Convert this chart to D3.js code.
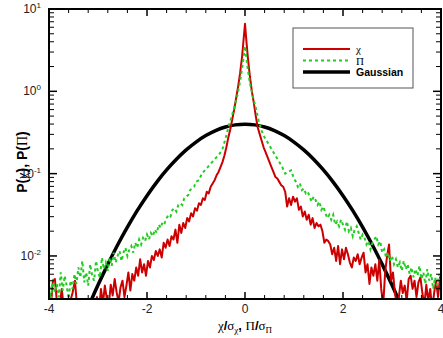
<!DOCTYPE html>
<html>
<head>
<meta charset="utf-8">
<script src="https://cdn.jsdelivr.net/npm/d3@7"></script>
<style>
  body { margin: 0; background: #fff; }
  svg { display: block; font-family: "Liberation Sans", Arial, sans-serif; }
</style>
</head>
<body>
<svg id="chart" width="443" height="338"></svg>
<script>
// chi distribution: [x, log10 P]
const chiData = [
  [-4.00,-2.45],[-3.96,-2.60],[-3.92,-2.30],[-3.88,-2.28],[-3.84,-2.55],[-3.80,-2.70],[-3.74,-2.40],[-3.70,-2.62],
  [-3.64,-2.75],[-3.58,-2.58],[-3.52,-2.45],[-3.47,-2.30],[-3.43,-2.60],[-3.38,-2.80],[-3.30,-2.65],[-3.22,-2.80],
  [-3.18,-2.55],[-3.14,-2.70],[-3.08,-2.62],[-3.02,-2.50],[-2.98,-2.68],[-2.94,-2.40],[-2.90,-2.58],[-2.86,-2.36],
  [-2.82,-2.52],[-2.78,-2.60],[-2.74,-2.35],[-2.70,-2.48],[-2.66,-2.28],[-2.62,-2.44],[-2.58,-2.56],[-2.54,-2.38],
  [-2.50,-2.30],[-2.46,-2.50],[-2.42,-2.36],[-2.38,-2.20],[-2.34,-2.42],[-2.30,-2.22],[-2.26,-2.30],[-2.22,-2.14],
  [-2.18,-2.24],[-2.14,-2.04],[-2.10,-2.20],[-2.06,-2.10],[-2.02,-2.24],[-1.98,-2.06],[-1.94,-2.14],[-1.90,-2.00],
  [-1.86,-2.05],[-1.82,-1.94],[-1.78,-2.00],[-1.74,-1.92],[-1.70,-2.02],[-1.66,-1.84],[-1.62,-1.90],[-1.58,-1.80],
  [-1.54,-1.88],[-1.50,-1.76],[-1.46,-1.80],[-1.42,-1.68],[-1.38,-1.84],[-1.34,-1.62],[-1.30,-1.72],[-1.26,-1.60],
  [-1.22,-1.66],[-1.18,-1.54],[-1.14,-1.58],[-1.10,-1.48],[-1.06,-1.52],[-1.02,-1.42],[-0.98,-1.45],[-0.94,-1.36],
  [-0.90,-1.38],[-0.86,-1.30],[-0.82,-1.32],[-0.78,-1.22],[-0.74,-1.24],[-0.70,-1.16],[-0.66,-1.12],[-0.62,-1.08],
  [-0.58,-1.02],[-0.54,-0.98],[-0.50,-0.92],[-0.46,-0.86],[-0.42,-0.78],[-0.38,-0.68],[-0.34,-0.56],[-0.30,-0.46],
  [-0.26,-0.34],[-0.22,-0.22],[-0.18,-0.08],[-0.14,0.06],[-0.10,0.22],[-0.06,0.42],[-0.03,0.62],[0.00,0.82],
  [0.03,0.60],[0.06,0.40],[0.10,0.18],[0.14,0.00],[0.18,-0.14],[0.22,-0.30],[0.26,-0.44],[0.30,-0.52],
  [0.34,-0.60],[0.38,-0.68],[0.42,-0.74],[0.46,-0.80],[0.50,-0.86],[0.54,-0.92],[0.58,-0.98],[0.62,-1.04],
  [0.66,-1.06],[0.70,-1.10],[0.74,-1.14],[0.78,-1.16],[0.82,-1.22],[0.86,-1.40],[0.90,-1.30],[0.94,-1.38],
  [0.98,-1.28],[1.02,-1.34],[1.06,-1.30],[1.10,-1.44],[1.14,-1.40],[1.18,-1.52],[1.22,-1.46],[1.26,-1.56],
  [1.30,-1.50],[1.34,-1.62],[1.38,-1.54],[1.42,-1.66],[1.46,-1.60],[1.50,-1.64],[1.54,-1.62],[1.58,-1.70],
  [1.62,-1.84],[1.66,-1.80],[1.70,-1.82],[1.74,-1.86],[1.78,-1.98],[1.82,-1.90],[1.86,-2.06],[1.90,-1.88],
  [1.94,-2.10],[1.98,-1.92],[2.02,-2.04],[2.06,-1.90],[2.10,-1.98],[2.14,-2.08],[2.18,-2.14],[2.22,-2.02],
  [2.26,-2.06],[2.30,-1.98],[2.34,-2.10],[2.38,-2.02],[2.42,-1.96],[2.46,-2.20],[2.50,-2.10],[2.54,-2.34],
  [2.58,-2.14],[2.62,-2.24],[2.66,-2.10],[2.70,-2.30],[2.74,-2.05],[2.78,-2.40],[2.82,-2.60],[2.86,-2.20],
  [2.90,-2.00],[2.94,-1.86],[2.98,-2.30],[3.02,-2.20],[3.06,-2.45],[3.10,-2.60],[3.14,-2.50],[3.18,-2.30],
  [3.22,-2.45],[3.26,-2.36],[3.30,-2.55],[3.34,-2.28],[3.38,-2.24],[3.42,-2.40],[3.46,-2.30],[3.50,-2.50],
  [3.54,-2.32],[3.58,-2.26],[3.62,-2.45],[3.66,-2.60],[3.70,-2.35],[3.74,-2.55],[3.78,-2.40],[3.82,-2.65],
  [3.86,-2.45],[3.90,-2.30],[3.94,-2.50],[3.98,-2.26],[4.00,-2.40]
];

// Pi distribution: [x, log10 P]
const piData = [
  [-4.00,-2.30],[-3.96,-2.52],[-3.92,-2.28],[-3.88,-2.44],[-3.84,-2.34],[-3.80,-2.50],[-3.76,-2.20],[-3.72,-2.42],
  [-3.68,-2.24],[-3.64,-2.36],[-3.60,-2.52],[-3.56,-2.30],[-3.52,-2.40],[-3.48,-2.22],[-3.44,-2.34],[-3.40,-2.14],
  [-3.36,-2.26],[-3.32,-2.06],[-3.28,-2.32],[-3.24,-2.20],[-3.20,-2.36],[-3.16,-2.10],[-3.12,-2.24],[-3.08,-2.30],
  [-3.04,-2.06],[-3.00,-2.20],[-2.96,-2.26],[-2.92,-2.02],[-2.88,-2.16],[-2.84,-2.08],[-2.80,-2.18],[-2.76,-2.02],
  [-2.72,-2.12],[-2.68,-1.96],[-2.64,-2.08],[-2.60,-2.00],[-2.56,-1.94],[-2.52,-2.06],[-2.48,-1.96],[-2.44,-1.90],
  [-2.40,-2.00],[-2.36,-1.92],[-2.32,-1.88],[-2.28,-1.96],[-2.24,-1.84],[-2.20,-1.90],[-2.16,-1.80],[-2.12,-1.86],
  [-2.08,-1.78],[-2.04,-1.82],[-2.00,-1.74],[-1.96,-1.80],[-1.92,-1.72],[-1.88,-1.76],[-1.84,-1.68],[-1.80,-1.72],
  [-1.76,-1.62],[-1.72,-1.66],[-1.68,-1.58],[-1.64,-1.60],[-1.60,-1.54],[-1.56,-1.50],[-1.52,-1.52],[-1.48,-1.44],
  [-1.44,-1.42],[-1.40,-1.46],[-1.36,-1.38],[-1.32,-1.36],[-1.28,-1.38],[-1.24,-1.30],[-1.20,-1.28],[-1.16,-1.26],
  [-1.12,-1.20],[-1.08,-1.18],[-1.04,-1.16],[-1.00,-1.10],[-0.94,-1.08],[-0.88,-1.00],[-0.82,-0.96],[-0.76,-0.92],
  [-0.70,-0.88],[-0.64,-0.84],[-0.58,-0.80],[-0.52,-0.76],[-0.46,-0.70],[-0.40,-0.58],[-0.34,-0.44],[-0.28,-0.32],
  [-0.22,-0.20],[-0.16,-0.06],[-0.10,0.12],[-0.05,0.32],[0.00,0.55],
  [0.05,0.30],[0.10,0.10],[0.16,-0.06],[0.22,-0.20],[0.28,-0.36],[0.34,-0.48],[0.40,-0.56],[0.46,-0.62],
  [0.52,-0.68],[0.58,-0.74],[0.64,-0.80],[0.70,-0.86],[0.76,-0.92],[0.82,-1.00],[0.88,-0.98],[0.94,-0.96],
  [1.00,-1.06],[1.04,-1.10],[1.08,-1.16],[1.12,-1.12],[1.16,-1.20],[1.20,-1.18],[1.24,-1.24],[1.28,-1.22],
  [1.32,-1.28],[1.36,-1.34],[1.40,-1.28],[1.44,-1.32],[1.48,-1.38],[1.52,-1.34],[1.56,-1.44],[1.60,-1.40],
  [1.64,-1.48],[1.68,-1.54],[1.72,-1.50],[1.76,-1.56],[1.80,-1.50],[1.84,-1.62],[1.88,-1.58],[1.92,-1.64],
  [1.96,-1.56],[2.00,-1.62],[2.04,-1.68],[2.08,-1.58],[2.12,-1.70],[2.16,-1.66],[2.20,-1.76],[2.24,-1.68],
  [2.28,-1.64],[2.32,-1.72],[2.36,-1.80],[2.40,-1.74],[2.44,-1.78],[2.48,-1.86],[2.52,-1.82],[2.56,-1.92],
  [2.60,-1.84],[2.64,-1.80],[2.68,-1.76],[2.72,-1.86],[2.76,-1.82],[2.80,-1.96],[2.84,-1.92],[2.88,-2.02],
  [2.92,-1.96],[2.96,-2.06],[3.00,-2.00],[3.04,-2.10],[3.08,-2.04],[3.12,-2.14],[3.16,-2.08],[3.20,-2.18],
  [3.24,-2.06],[3.28,-2.16],[3.32,-2.10],[3.36,-2.22],[3.40,-2.14],[3.44,-2.26],[3.48,-2.16],[3.52,-2.24],
  [3.56,-2.12],[3.60,-2.28],[3.64,-2.20],[3.68,-2.34],[3.72,-2.16],[3.76,-2.30],[3.80,-2.22],[3.84,-2.40],
  [3.88,-2.26],[3.92,-2.36],[3.96,-2.22],[4.00,-2.32]
];

// Gaussian reference curve: [x, P]
const gaussData = [
  [-3.4,0.00123],[-3.2,0.00238],[-3.0,0.00443],[-2.8,0.0079],[-2.6,0.0136],[-2.4,0.0224],[-2.2,0.0355],
  [-2.0,0.0540],[-1.8,0.0790],[-1.6,0.1109],[-1.4,0.1497],[-1.2,0.1942],[-1.0,0.2420],[-0.8,0.2897],
  [-0.6,0.3332],[-0.4,0.3683],[-0.2,0.3910],[0.0,0.3989],[0.2,0.3910],[0.4,0.3683],[0.6,0.3332],
  [0.8,0.2897],[1.0,0.2420],[1.2,0.1942],[1.4,0.1497],[1.6,0.1109],[1.8,0.0790],[2.0,0.0540],
  [2.2,0.0355],[2.4,0.0224],[2.6,0.0136],[2.8,0.0079],[3.0,0.00443],[3.2,0.00238],[3.4,0.00123]
];

const xTicks = [-4, -2, 0, 2, 4];
const yTicks = [-2, -1, 0, 1]; // exponents

const svg = d3.select("#chart");
const margin = {left: 49, right: 2, top: 9, bottom: 39};
const W = 443, H = 338;

const x = d3.scaleLinear().domain([-4, 4]).range([margin.left, W - margin.right]);
const y = d3.scaleLog().domain([0.003, 10]).range([H - margin.bottom, margin.top]);

svg.append("defs").append("clipPath").attr("id", "plotClip")
  .append("rect")
  .attr("x", margin.left).attr("y", margin.top)
  .attr("width", W - margin.left - margin.right)
  .attr("height", H - margin.top - margin.bottom);

const plot = svg.append("g").attr("clip-path", "url(#plotClip)");

const line = d3.line().x(d => x(d[0])).y(d => y(Math.pow(10, d[1])));
const gline = d3.line().x(d => x(d[0])).y(d => y(d[1])).curve(d3.curveCatmullRom);

plot.append("path").datum(gaussData)
  .attr("d", gline).attr("fill", "none")
  .attr("stroke", "#000").attr("stroke-width", 3.5);

plot.append("path").datum(chiData)
  .attr("d", line).attr("fill", "none")
  .attr("stroke", "#cc0000").attr("stroke-width", 2).attr("stroke-linejoin", "round");

plot.append("path").datum(piData)
  .attr("d", line).attr("fill", "none")
  .attr("stroke", "#22cc22").attr("stroke-width", 2).attr("stroke-dasharray", "3,3");

// axes, ticks inward on all four sides
const x0 = margin.left, x1 = W - margin.right, y0 = H - margin.bottom, y1 = margin.top;
const xMinor = d3.range(-4, 4.01, 0.4).filter(v => Math.abs(v / 2 - Math.round(v / 2)) > 1e-6);
const yMinor = [];
[0.001, 0.01, 0.1, 1].forEach(dec => { for (let k = 2; k <= 9; k++) if (dec * k >= 0.003 && dec * k <= 10) yMinor.push(dec * k); });

const axes = svg.append("g").attr("stroke", "#000");
// bottom/top
axes.selectAll(".xb").data(xTicks).join("line")
  .attr("x1", d => x(d)).attr("x2", d => x(d)).attr("y1", y0).attr("y2", y0 - 7).attr("stroke-width", 1.5);
axes.selectAll(".xt").data(xTicks).join("line")
  .attr("x1", d => x(d)).attr("x2", d => x(d)).attr("y1", y1).attr("y2", y1 + 7).attr("stroke-width", 1.5);
axes.selectAll(".xbm").data(xMinor).join("line")
  .attr("x1", d => x(d)).attr("x2", d => x(d)).attr("y1", y0).attr("y2", y0 - 4).attr("stroke-width", 1);
axes.selectAll(".xtm").data(xMinor).join("line")
  .attr("x1", d => x(d)).attr("x2", d => x(d)).attr("y1", y1).attr("y2", y1 + 4).attr("stroke-width", 1);
// left/right
axes.selectAll(".yl").data(yTicks).join("line")
  .attr("x1", x0).attr("x2", x0 + 8).attr("y1", d => y(Math.pow(10, d))).attr("y2", d => y(Math.pow(10, d))).attr("stroke-width", 1.5);
axes.selectAll(".yr").data(yTicks).join("line")
  .attr("x1", x1).attr("x2", x1 - 8).attr("y1", d => y(Math.pow(10, d))).attr("y2", d => y(Math.pow(10, d))).attr("stroke-width", 1.5);
axes.selectAll(".ylm").data(yMinor).join("line")
  .attr("x1", x0).attr("x2", x0 + 5).attr("y1", d => y(d)).attr("y2", d => y(d)).attr("stroke-width", 1);
axes.selectAll(".yrm").data(yMinor).join("line")
  .attr("x1", x1).attr("x2", x1 - 5).attr("y1", d => y(d)).attr("y2", d => y(d)).attr("stroke-width", 1);

svg.append("rect")
  .attr("x", x0).attr("y", y1).attr("width", x1 - x0).attr("height", y0 - y1)
  .attr("fill", "none").attr("stroke", "#000").attr("stroke-width", 2);

// tick labels
svg.append("g").selectAll("text").data(xTicks).join("text")
  .attr("x", d => x(d)).attr("y", y0 + 14)
  .attr("text-anchor", "middle").attr("font-size", 12).attr("fill", "#222")
  .text(d => d);

const yl = svg.append("g").selectAll("text").data(yTicks).join("text")
  .attr("x", x0 - 8).attr("y", d => y(Math.pow(10, d)) + 4)
  .attr("text-anchor", "end").attr("font-size", 12).attr("fill", "#222");
yl.append("tspan").text("10");
yl.append("tspan").attr("dy", -5).attr("font-size", 8).text(d => d);

// axis titles
const serif = "Liberation Serif, serif";
const xt = svg.append("text")
  .attr("x", 245).attr("y", 330).attr("text-anchor", "middle")
  .attr("font-size", 13).attr("font-weight", "bold");
xt.append("tspan").attr("font-family", serif).attr("font-weight", "normal").text("χ");
xt.append("tspan").text("/");
xt.append("tspan").attr("font-family", serif).attr("font-weight", "normal").text("σ");
xt.append("tspan").attr("font-family", serif).attr("font-weight", "normal").attr("font-size", 9).attr("dy", 3).text("χ");
xt.append("tspan").attr("dy", -3).text(", ");
xt.append("tspan").attr("font-family", serif).attr("font-weight", "normal").text("Π");
xt.append("tspan").text("/");
xt.append("tspan").attr("font-family", serif).attr("font-weight", "normal").text("σ");
xt.append("tspan").attr("font-family", serif).attr("font-weight", "normal").attr("font-size", 9).attr("dy", 3).text("Π");

const yt = svg.append("text")
  .attr("transform", "translate(27,162) rotate(-90)")
  .attr("text-anchor", "middle").attr("font-size", 14).attr("font-weight", "bold");
yt.append("tspan").text("P(");
yt.append("tspan").attr("font-family", serif).attr("font-weight", "normal").text("χ");
yt.append("tspan").text("), P(");
yt.append("tspan").attr("font-family", serif).attr("font-weight", "normal").text("Π");
yt.append("tspan").text(")");

// legend
const legendItems = [
  {label: "χ", color: "#cc0000", width: 2, dash: null, serif: true},
  {label: "Π", color: "#22cc22", width: 2, dash: "3,3", serif: true},
  {label: "Gaussian", color: "#000", width: 3.5, dash: null, serif: false}
];
const lg = svg.append("g");
lg.append("rect").attr("x", 293).attr("y", 28).attr("width", 120).attr("height", 60)
  .attr("fill", "#fff").attr("stroke", "#555").attr("stroke-width", 1);
const li = lg.selectAll("g").data(legendItems).join("g")
  .attr("transform", (d, i) => `translate(0,${49 + i * 11.5})`);
li.append("line").attr("x1", 303).attr("x2", 350).attr("y1", 0).attr("y2", 0)
  .attr("stroke", d => d.color).attr("stroke-width", d => d.width)
  .attr("stroke-dasharray", d => d.dash);
li.append("text").attr("x", 356).attr("y", 4)
  .attr("font-size", d => d.serif ? 11 : 10.5)
  .attr("font-weight", d => d.serif ? "normal" : "bold")
  .attr("font-family", d => d.serif ? serif : null)
  .text(d => d.label);
</script>
</body>
</html>
